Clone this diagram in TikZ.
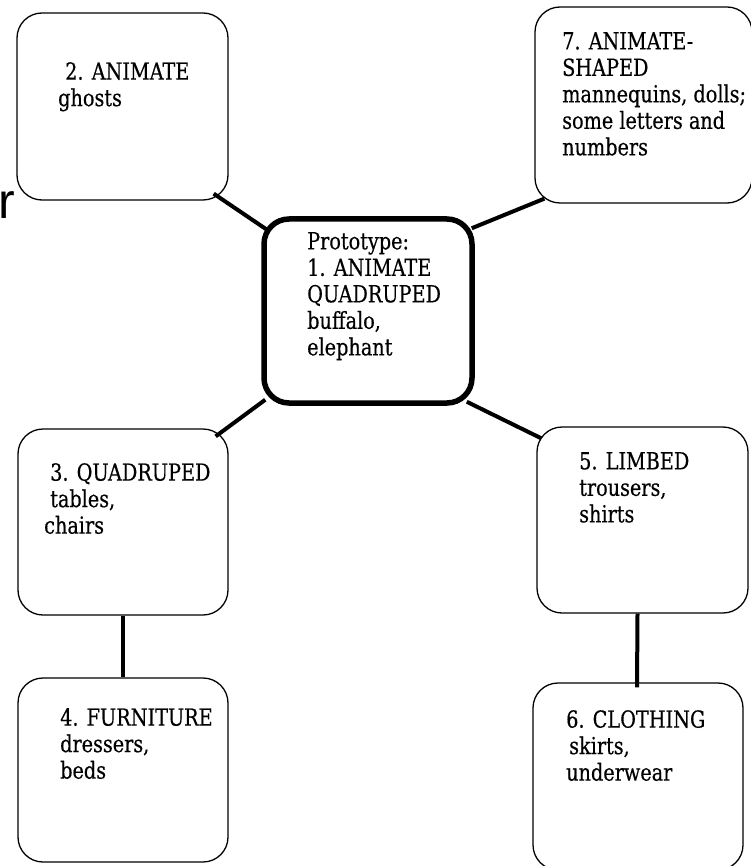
\documentclass[tikz,border=0pt]{standalone}
\usepackage{fontspec}
\setmainfont{DejaVu Serif Condensed}[FakeStretch=0.91,FakeBold=0.4]
\newfontfamily\leftoverfont{Liberation Sans}
\usetikzlibrary{calc}

\tikzset{
  card/.style={draw,rounded corners=25,line width=1.3pt,inner sep=0},
  proto/.style={card,line width=5.5pt},
  cardtext/.style={anchor=north west,align=left,inner sep=0,
    font=\fontsize{23.5}{26.5}\selectfont},
  link/.style={line width=4pt}
}

\begin{document}
\begin{tikzpicture}[x=1pt,y=-1pt]
  \useasboundingbox (0,0) rectangle (751,866);

  % boxes
  \node[proto,minimum width=208,minimum height=184] (proto) at (368,311) {};
  \node[card,minimum width=211,minimum height=187] (ghost) at (122.5,106.5) {};
  \node[card,minimum width=217,minimum height=196] (shaped) at (643.5,105) {};
  \node[card,minimum width=210,minimum height=186] (quad) at (123,522) {};
  \node[card,minimum width=210,minimum height=184] (furn) at (123,770) {};
  \node[card,minimum width=211,minimum height=186] (limb) at (642.5,520) {};
  \node[card,minimum width=210,minimum height=187] (cloth) at (638,776.5) {};

  % texts
  \node[cardtext] (protoText) at (307,232)
    {Prototype:\\1. ANIMATE\\QUADRUPED\\buffalo,\\elephant};
  \node[cardtext] (ghostText) at (58,62) {\hspace*{7pt}2. ANIMATE\\ghosts};
  \node[cardtext] (shapedText) at (562,32)
    {7. ANIMATE-\\SHAPED\\mannequins, dolls;\\some letters and\\numbers};
  \node[cardtext] (quadText) at (44,463)
    {\hspace*{6pt}3. QUADRUPED\\\hspace*{6pt}tables,\\chairs};
  \node[cardtext] (furnText) at (60,708) {4. FURNITURE\\dressers,\\beds};
  \node[cardtext] (limbText) at (579,452) {5. LIMBED\\trousers,\\shirts};
  \node[cardtext] (clothText) at (566,710)
    {6. CLOTHING\\\hspace*{3pt}skirts,\\underwear};

  \node[anchor=base west,inner sep=0,font=\leftoverfont\fontsize{50}{50}\selectfont]
    (stray) at (-1.5,219) {r};

  % links
  \draw[link] ($(ghost.south east)+(-15,-7)$) -- ($(proto.north west)+(5,13)$);
  \draw[link] ($(shaped.south west)+(10,-5)$) -- ($(proto.north east)+(-3,12)$);
  \draw[link] ($(proto.south west)+(4,-6)$) -- ($(quad.north east)+(-13,8)$);
  \draw[link] ($(proto.south east)+(-8,-4)$) -- ($(limb.north west)+(5,12)$);
  \draw[link] (quad.south) -- (furn.north);
  \draw[link] ($(limb.south)+(-5,0)$) -- ($(cloth.north)+(-1,5)$);
\end{tikzpicture}
\end{document}
